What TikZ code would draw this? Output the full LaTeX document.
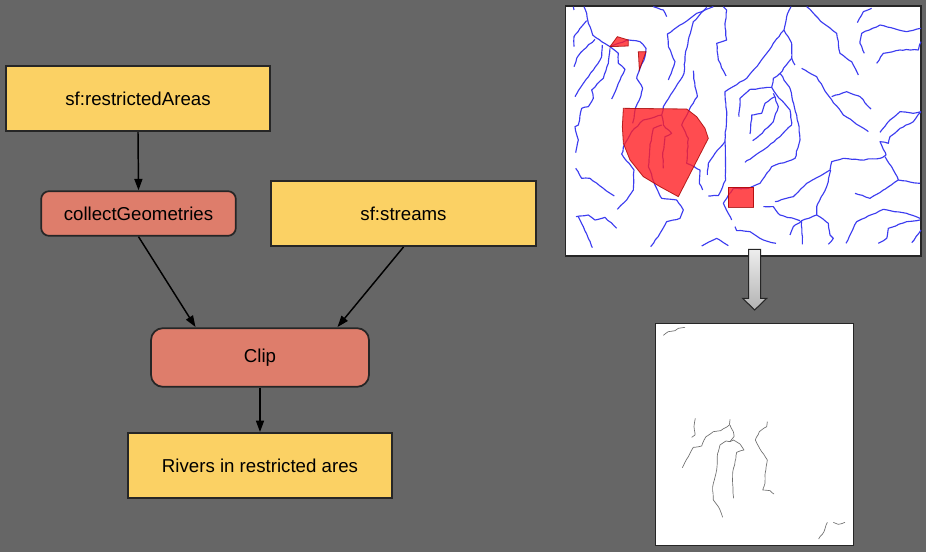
\documentclass[tikz,border=0pt]{standalone}
\usepackage{fontspec}
\setmainfont{Liberation Sans}
\usetikzlibrary{arrows.meta,decorations.pathmorphing}
\definecolor{pagegray}{HTML}{666666}
\definecolor{datayellow}{HTML}{FBD164}
\definecolor{procred}{HTML}{DE7D6B}
\definecolor{riverblue}{HTML}{3C3CF0}
\definecolor{areared}{HTML}{FF2025}
\definecolor{thingray}{HTML}{707070}
\tikzset{
    x=.75pt, y=-.75pt,
    datastore/.style={draw=black!85, line width=1.3pt, fill=datayellow, minimum width=198.5pt, minimum height=49pt, font=\fontsize{14}{16}\selectfont},
    process/.style={draw=black!85, line width=1.3pt, fill=procred, rounded corners=6pt, font=\fontsize{14}{16}\selectfont},
    flow/.style={draw=black, line width=1.1pt, -{Triangle[length=8.5pt,width=6pt]}},
    river/.style={draw=riverblue, line width=.85pt, line join=round, decorate, decoration={random steps, segment length=3pt, amplitude=.35pt}},
    cutriver/.style={draw=thingray, line width=.5pt, line join=round, decorate, decoration={random steps, segment length=2.5pt, amplitude=.25pt}},
    area/.style={draw=red!65!black, line width=.6pt, fill=areared, fill opacity=.8, draw opacity=.8},
    mapframe/.style={draw=black!85, line width=.9pt, fill=white}
}
\begin{document}
\pgfmathsetseed{7}
\begin{tikzpicture}
        \fill[pagegray] (0,0) rectangle (926,552);
        \useasboundingbox (0,0) rectangle (926,552);

        % nodes
        \node (restricted) [datastore] at (138,98.5) {sf:restrictedAreas};
        \node (collect) [process, minimum width=146pt, minimum height=33.5pt] at (138.5,213.5) {collectGeometries};
        \node (streams) [datastore] at (403.5,213.5) {sf:streams};
        \node (clip) [process, rounded corners=9pt, minimum width=163.5pt, minimum height=44pt] at (260,357.5) {Clip};
        \node (result) [datastore] at (260,465.5) {Rivers in restricted ares};
        \coordinate (clipleft) at (195.5,327);
        \coordinate (clipright) at (337.5,327);

        % edges
        \draw[flow] (restricted.south) -- (collect.north);
        \draw[flow] (collect.south) -- (clipleft);
        \draw[flow] (streams.south) -- (clipright);
        \draw[flow] (clip.south) -- (result.north);

        % upper map
        \begin{scope}[shift={(560,0)}, x=.25pt, y=-.25pt]
        \draw[mapframe] (17,18) rectangle (1083,768);
        \draw[river] (40,20) -- (42,30);
        \draw[river] (72,20) -- (80,40) -- (85,70) -- (98,105) -- (125,125) -- (150,140) -- (175,130) -- (205,120) -- (240,125) -- (258,145) -- (255,170) -- (240,205) -- (230,235) -- (248,265) -- (238,300) -- (225,330) -- (218,370);
        \draw[river] (80,62) -- (60,85) -- (42,110) -- (42,140);
        \draw[river] (105,118) -- (70,150) -- (50,175) -- (42,200);
        \draw[river] (127,135) -- (125,170) -- (100,210) -- (70,250) -- (45,290);
        \draw[river] (150,145) -- (145,190) -- (130,235) -- (95,270) -- (100,295) -- (85,320) -- (65,325) -- (55,375) -- (45,380) -- (55,420) -- (47,458);
        \draw[river] (150,140) -- (175,160) -- (175,190) -- (195,208) -- (175,250) -- (155,297);
        \draw[river] (280,20) -- (310,30) -- (320,50);
        \draw[river] (460,20) -- (410,40) -- (370,70) -- (322,102) -- (325,140) -- (345,185) -- (325,240);
        \draw[river] (490,20) -- (500,30) -- (495,70) -- (500,120) -- (470,130) -- (475,180) -- (498,228);
        \draw[river] (440,22) -- (400,65) -- (385,120) -- (375,170) -- (372,220) -- (345,265) -- (310,320) -- (305,345) -- (250,360) -- (215,395) -- (195,430) -- (185,462) -- (222,510) -- (220,570) -- (200,600) -- (172,628);
        \draw[river] (305,345) -- (310,375) -- (335,400) -- (315,410) -- (308,470) -- (310,505);
        \draw[river] (305,375) -- (280,385) -- (270,440) -- (265,500) -- (285,555) -- (305,595) -- (350,600) -- (370,630) -- (360,655) -- (320,665) -- (300,700) -- (272,740);
        \draw[river] (400,212) -- (405,260) -- (412,290) -- (392,320) -- (365,375) -- (385,415) -- (380,490) -- (420,510) -- (418,550) -- (428,570);
        \draw[river] (693,20) -- (680,50) -- (672,90) -- (640,130) -- (620,160) -- (585,205) -- (560,235) -- (495,275) -- (500,350) -- (495,420) -- (497,540) -- (475,587) -- (445,588);
        \draw[river] (495,425) -- (465,460) -- (445,490) -- (442,525);
        \draw[river] (672,90) -- (695,130) -- (695,175) -- (660,220) -- (640,235) -- (635,262) -- (570,268) -- (540,295) -- (537,350);
        \draw[river] (695,175) -- (705,195);
        \draw[river] (725,205) -- (770,230) -- (800,280) -- (850,345) -- (925,395);
        \draw[river] (740,20) -- (790,70) -- (830,100) -- (840,160) -- (875,185) -- (895,225);
        \draw[river] (815,290) -- (860,275) -- (900,290) -- (933,327);
        \draw[river] (660,220) -- (690,265) -- (715,370) -- (720,420) -- (705,475) -- (635,500) -- (620,520) -- (600,550) -- (565,565) -- (520,565) -- (490,610) -- (515,660);
        \draw[river] (635,262) -- (650,285) -- (690,330) -- (695,375) -- (660,410) -- (610,450) -- (555,487);
        \draw[river] (640,280) -- (655,320) -- (640,365) -- (600,405) -- (578,422);
        \draw[river] (645,290) -- (615,310) -- (605,340) -- (575,345) -- (572,380) -- (570,402);
        \draw[river] (935,25) -- (910,35) -- (892,68);
        \draw[river] (1083,85) -- (1040,95) -- (960,75) -- (905,100) -- (900,130) -- (913,160);
        \draw[river] (1083,125) -- (1075,150) -- (1020,150) -- (970,160) -- (950,190);
        \draw[river] (1083,335) -- (1060,340) -- (1020,335) -- (990,360) -- (960,397);
        \draw[river] (1083,335) -- (1060,365) -- (1020,385) -- (990,410) -- (985,430) -- (960,425) -- (978,465) -- (960,475) -- (900,480) -- (850,475) -- (815,485) -- (810,510) -- (740,550) -- (700,590) -- (645,605);
        \draw[river] (975,470) -- (1000,510) -- (1015,540) -- (1080,550);
        \draw[river] (1015,540) -- (970,570) -- (930,595) -- (885,580);
        \draw[river] (812,510) -- (800,560) -- (770,620) -- (770,645) -- (725,662) -- (700,680) -- (690,705);
        \draw[river] (610,620) -- (640,620) -- (660,645) -- (720,662);
        \draw[river] (725,662) -- (727,733);
        \draw[river] (770,645) -- (805,670) -- (810,705) -- (820,715) -- (805,733);
        \draw[river] (1080,655) -- (1040,640) -- (970,628) -- (890,665) -- (858,730);
        \draw[river] (1080,660) -- (1040,665) -- (985,685) -- (980,715) -- (955,730);
        \draw[river] (1083,690) -- (1055,728);
        \draw[river] (525,680) -- (530,692) -- (570,695) -- (610,720) -- (648,730);
        \draw[river] (425,738) -- (470,715) -- (505,737);
        \draw[river] (48,650) -- (85,645) -- (105,660) -- (135,652) -- (170,685);
        \draw[river] (55,650) -- (70,680) -- (85,715) -- (97,743);
        \draw[river] (47,505) -- (65,535) -- (90,535) -- (130,565) -- (163,588);
        \draw[area] (190,325) -- (380,327) -- (410,350) -- (435,385) -- (445,415) -- (355,590) -- (300,560) -- (250,530) -- (210,480) -- (190,430) -- (187,380) -- cycle;
        \draw[area] (150,140) -- (172,110) -- (205,120) -- (205,138) -- cycle;
        \draw[area] (235,155) -- (258,155) -- (238,210) -- cycle;
        \draw[area] (505,562) rectangle (581,622);
        \end{scope}

        % lower map and arrow
        \begin{scope}[shift={(650,240)}, x=.25pt, y=-.25pt]
        \draw[mapframe] (17,250) rectangle (610,917);
        \draw[cutriver] (40,286) -- (55,275) -- (75,272) -- (85,265) -- (105,262);
        \draw[cutriver] (136,535) -- (132,560) -- (135,585) -- (125,592);
        \draw[cutriver] (240,538) -- (238,555) -- (212,572) -- (190,575) -- (168,590) -- (155,618) -- (130,622) -- (115,650) -- (97,683);
        \draw[cutriver] (240,555) -- (250,575) -- (252,590) -- (240,605) -- (228,603) -- (210,615) -- (203,640) -- (200,690) -- (188,740) -- (190,780) -- (205,800) -- (218,832);
        \draw[cutriver] (240,605) -- (250,600) -- (270,612) -- (282,630) -- (260,637) -- (255,665) -- (248,700) -- (250,775);
        \draw[cutriver] (352,545) -- (350,560) -- (328,575) -- (316,600) -- (335,635) -- (352,660) -- (345,705) -- (345,730) -- (338,750) -- (360,752) -- (372,762);
        \draw[cutriver] (532,847) -- (522,875) -- (506,897);
        \draw[cutriver] (550,847) -- (565,853) -- (585,847);
        \draw[draw=black!85, line width=.8pt, top color=black!7, bottom color=black!30] (296,28) -- (332,28) -- (332,175) -- (350,175) -- (314,210) -- (278,175) -- (296,175) -- cycle;
        \end{scope}
    \end{tikzpicture}
\end{document}
